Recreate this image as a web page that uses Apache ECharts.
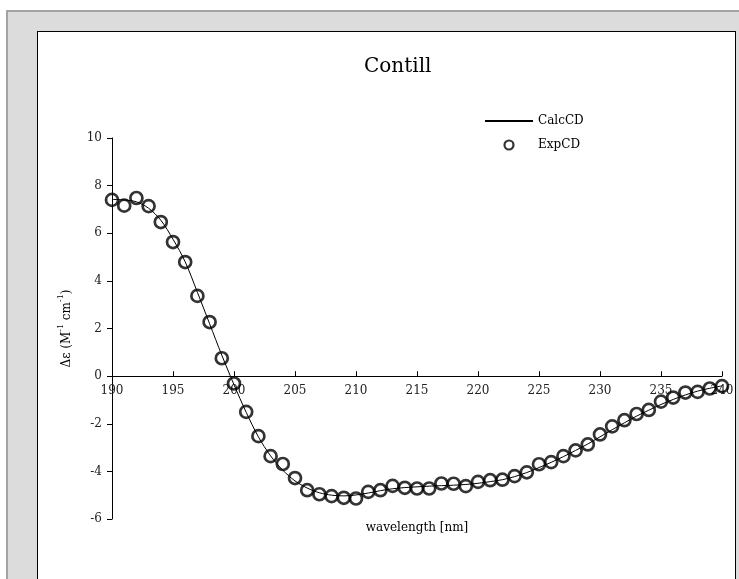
<!DOCTYPE html>
<html>
<head>
<meta charset="utf-8">
<script src="https://cdn.jsdelivr.net/npm/echarts@6/dist/echarts.min.js"></script>
<style>
  html, body { margin: 0; padding: 0; background: #fff; overflow: hidden; }
  #frame { position: absolute; left: 6px; top: 10px; width: 760px; height: 620px;
           background: #dcdcdc; border: 2px solid #a3a3a3; box-sizing: border-box; }
  #panel { position: absolute; left: 37px; top: 31px; width: 699px; height: 620px;
           background: #fff; border: 1.5px solid #000; box-sizing: border-box; }
  #chart { position: absolute; left: 0; top: 0; width: 739px; height: 579px; }
</style>
</head>
<body>
<div id="frame"></div>
<div id="panel"></div>
<div id="chart"></div>
<script>
// wavelength grid (nm)
const wavelengths = [
  190,191,192,193,194,195,196,197,198,199,
  200,201,202,203,204,205,206,207,208,209,
  210,211,212,213,214,215,216,217,218,219,
  220,221,222,223,224,225,226,227,228,229,
  230,231,232,233,234,235,236,237,238,239,240
];

// measured CD spectrum (Δε)
const expCD = [
  7.40, 7.16, 7.48, 7.14, 6.47, 5.63, 4.79, 3.37, 2.27, 0.75,
  -0.31, -1.50, -2.52, -3.36, -3.69, -4.28, -4.79, -4.96, -5.04, -5.11,
  -5.14, -4.86, -4.79, -4.61, -4.69, -4.72, -4.72, -4.51, -4.52, -4.62,
  -4.44, -4.37, -4.35, -4.20, -4.04, -3.70, -3.61, -3.36, -3.12, -2.87,
  -2.45, -2.11, -1.85, -1.59, -1.42, -1.07, -0.90, -0.69, -0.66, -0.52, -0.42
];

// calculated CD spectrum (Δε)
const calcCD = [
  7.42, 7.40, 7.32, 7.05, 6.55, 5.75, 4.80, 3.52, 2.20, 0.88,
  -0.36, -1.52, -2.55, -3.35, -3.95, -4.40, -4.70, -4.90, -5.00, -5.03,
  -4.99, -4.91, -4.81, -4.73, -4.68, -4.65, -4.62, -4.60, -4.58, -4.55,
  -4.50, -4.43, -4.35, -4.22, -4.05, -3.84, -3.62, -3.38, -3.12, -2.85,
  -2.55, -2.25, -1.96, -1.68, -1.43, -1.19, -0.98, -0.79, -0.63, -0.51, -0.41
];

const xTicks = { min: 190, max: 240, step: 5 };
const yTicks = { min: -6, max: 10, step: 2 };

const serif = 'DejaVu Serif';
const gridTop = 138, gridBottom = 60, chartHeight = 579;

// pixel distance from the bottom edge of the plot up to Δε = 0
const plotH = chartHeight - gridTop - gridBottom;
const zeroLift = plotH * (0 - yTicks.min) / (yTicks.max - yTicks.min);

const chart = echarts.init(document.getElementById('chart'), null, { renderer: 'canvas' });

chart.setOption({
  backgroundColor: 'transparent',
  animation: false,
  title: {
    text: 'Contill',
    left: 364,
    top: 57,
    padding: 0,
    textStyle: { fontFamily: serif, fontSize: 20, fontWeight: 'normal', color: '#000' }
  },
  legend: {
    orient: 'vertical',
    left: 484,
    top: 115,
    padding: 0,
    itemWidth: 48,
    itemHeight: 9,
    itemGap: 12,
    textStyle: { fontFamily: serif, fontSize: 12, color: '#000' },
    data: [
      { name: 'CalcCD', itemStyle: { opacity: 0 } },
      { name: 'ExpCD', icon: 'circle',
        itemStyle: { color: 'rgba(0,0,0,0)', borderColor: '#000', borderWidth: 2.2 } }
    ]
  },
  grid: { left: 112, right: 17, top: gridTop, bottom: gridBottom, containLabel: false, outerBoundsMode: 'none' },
  xAxis: [
    {
      // axis line and ticks crossing at Δε = 0
      type: 'value',
      min: xTicks.min,
      max: xTicks.max,
      interval: xTicks.step,
      axisLine: { onZero: true, lineStyle: { color: '#000', width: 1 } },
      axisTick: { inside: true, length: 5, lineStyle: { color: '#000' } },
      axisLabel: { show: false },
      splitLine: { show: false }
    },
    {
      // tick labels and axis title, shifted up to the zero line
      type: 'value',
      position: 'bottom',
      offset: -zeroLift,
      min: xTicks.min,
      max: xTicks.max,
      interval: xTicks.step,
      name: 'wavelength [nm]',
      nameLocation: 'middle',
      nameGap: 146,
      nameTextStyle: { fontFamily: serif, fontSize: 12, color: '#000' },
      axisLine: { show: false, onZero: false },
      axisTick: { show: false },
      axisLabel: { fontFamily: serif, fontSize: 12, color: '#222', margin: 9 },
      splitLine: { show: false }
    }
  ],
  yAxis: {
    type: 'value',
    min: yTicks.min,
    max: yTicks.max,
    interval: yTicks.step,
    name: '{n|Δε (M}{s|-1}{n| cm}{s|-1}{n|)}',
    nameLocation: 'middle',
    nameRotate: 90,
    nameGap: 39,
    nameTextStyle: {
      fontFamily: serif, fontSize: 12, color: '#000',
      rich: {
        n: { fontFamily: serif, fontSize: 12, color: '#000', lineHeight: 16, verticalAlign: 'bottom' },
        s: { fontFamily: serif, fontSize: 8, color: '#000', lineHeight: 16, verticalAlign: 'top' }
      }
    },
    axisLine: { show: true, onZero: false, lineStyle: { color: '#000', width: 1 } },
    axisTick: { show: true, inside: false, length: 5, lineStyle: { color: '#000' } },
    axisLabel: { fontFamily: serif, fontSize: 12, color: '#222', margin: 10 },
    splitLine: { show: false }
  },
  series: [
    {
      name: 'CalcCD',
      type: 'line',
      data: wavelengths.map((w, i) => [w, calcCD[i]]),
      showSymbol: false,
      symbol: 'none',
      smooth: 0.3,
      lineStyle: { color: '#000', width: 1 },
      itemStyle: { color: '#000' },
      z: 2
    },
    {
      name: 'ExpCD',
      type: 'scatter',
      data: wavelengths.map((w, i) => [w, expCD[i]]),
      symbol: 'circle',
      symbolSize: 12,
      itemStyle: { color: 'rgba(0,0,0,0)', borderColor: '#000', borderWidth: 2.7 },
      z: 3
    }
  ]
});
</script>
</body>
</html>
